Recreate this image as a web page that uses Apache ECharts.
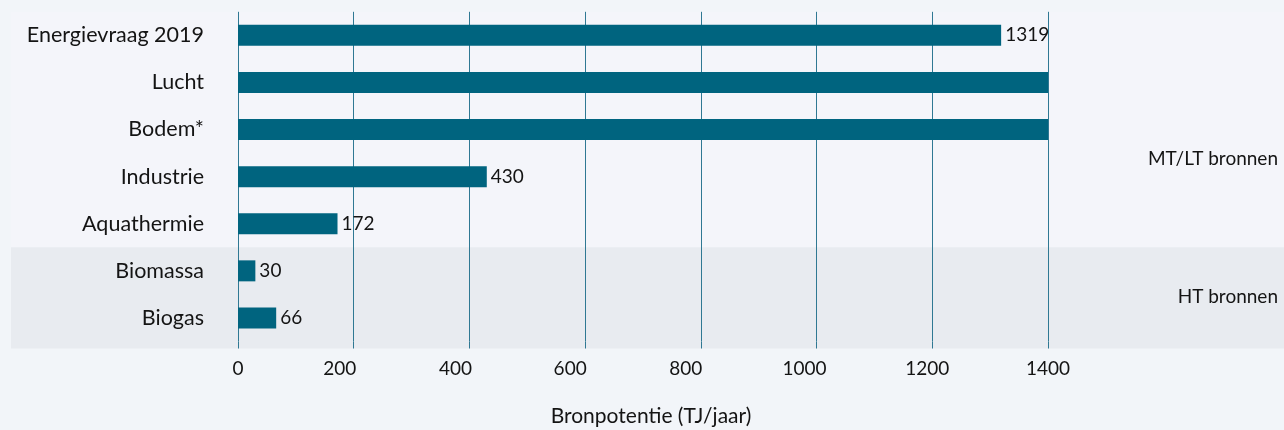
<!DOCTYPE html>
<html>
<head>
<meta charset="utf-8">
<script src="https://cdn.jsdelivr.net/npm/echarts@6/dist/echarts.min.js"></script>
<style>
  html, body { margin: 0; padding: 0; background: #f2f5f9; }
  #bronChart { width: 1284px; height: 430px; }
</style>
</head>
<body>
<div id="bronChart"></div>
<script>
// bronnen, van boven naar beneden
const categories = ['Energievraag 2019', 'Lucht', 'Bodem*', 'Industrie', 'Aquathermie', 'Biomassa', 'Biogas'];
// Lucht en Bodem lopen buiten de as (afgekapt op 1400)
const values = [1319, 1400, 1400, 430, 172, 30, 66];
const xTicks = [0, 200, 400, 600, 800, 1000, 1200, 1400];
const groupLabels = ['MT/LT bronnen', 'HT bronnen'];

const AXIS_MAX = 1400;
const FONT = 'Lato, "Noto Sans", sans-serif';
const TEXT = '#141414';
const BAR = '#00647f';
const GRID_LINE = '#2f7893';
const TICK_LEN = 7;
// tick labels in het origineel staan iets links van de lijnen
const labelShift = [0, 14, 14, 15, 15, 12, 5, 0];

const rich = {};
labelShift.forEach((s, i) => {
  rich['t' + i] = { fontFamily: FONT, fontSize: 19, color: TEXT, padding: [0, 2 * s, 0, 0] };
});

const chart = echarts.init(document.getElementById('bronChart'));

const option = {
  backgroundColor: '#f2f5f9',
  animation: false,
  grid: { left: 238, right: 236, top: 11.8, bottom: 88.5, containLabel: false, outerBoundsMode: 'none' },
  xAxis: {
    type: 'value',
    min: 0,
    max: AXIS_MAX,
    interval: 200,
    name: 'Bronpotentie (TJ/jaar)',
    nameLocation: 'middle',
    nameGap: 64,
    nameTextStyle: { fontFamily: FONT, fontSize: 21, color: TEXT, padding: [0, 0, 0, 16] },
    axisLine: { show: false },
    axisTick: { show: true, length: TICK_LEN, lineStyle: { color: GRID_LINE, width: 1 } },
    axisLabel: {
      margin: 18,
      formatter: (v) => {
        const i = xTicks.indexOf(v);
        return '{t' + i + '|' + v + '}';
      },
      rich: rich
    },
    splitLine: { show: true, lineStyle: { color: GRID_LINE, width: 1 } }
  },
  yAxis: {
    type: 'category',
    inverse: true,
    data: categories,
    axisLine: { show: false },
    axisTick: { show: false },
    axisLabel: { margin: 34, fontFamily: FONT, fontSize: 21.5, color: TEXT }
  },
  series: [{
    type: 'bar',
    data: values,
    barWidth: 21,
    itemStyle: { color: BAR },
    z: 3,
    label: {
      show: true,
      position: 'right',
      distance: 4,
      fontFamily: FONT,
      fontSize: 19,
      color: TEXT,
      formatter: (p) => (p.value >= AXIS_MAX ? '' : String(p.value))
    }
  }]
};

chart.setOption(option);

// achtergrondvlakken voor de twee groepen, uit de categorie-as berekend
const yTop = chart.convertToPixel({ yAxisIndex: 0 }, categories[0]);
const yBio = chart.convertToPixel({ yAxisIndex: 0 }, 'Biomassa');
const yLast = chart.convertToPixel({ yAxisIndex: 0 }, 'Biogas');
const band = yLast - yBio;
const htTop = yBio - band / 2;
const htBottom = yLast + band / 2 + TICK_LEN;
const mtTop = yTop - band / 2;

chart.setOption({
  graphic: [
    {
      type: 'rect', z: -10, silent: true,
      shape: { x: 11, y: mtTop, width: 1284 - 11, height: htTop - mtTop },
      style: { fill: '#f4f5fa' }
    },
    {
      type: 'rect', z: -10, silent: true,
      shape: { x: 11, y: htTop, width: 1284 - 11, height: htBottom - htTop },
      style: { fill: '#e8ebf0' }
    },
    {
      type: 'text', right: 6, top: 149,
      style: { text: groupLabels[0], font: '19px ' + FONT, fill: TEXT }
    },
    {
      type: 'text', right: 6, top: (htTop + htBottom) / 2 - 11,
      style: { text: groupLabels[1], font: '19px ' + FONT, fill: TEXT }
    }
  ]
});
</script>
</body>
</html>
